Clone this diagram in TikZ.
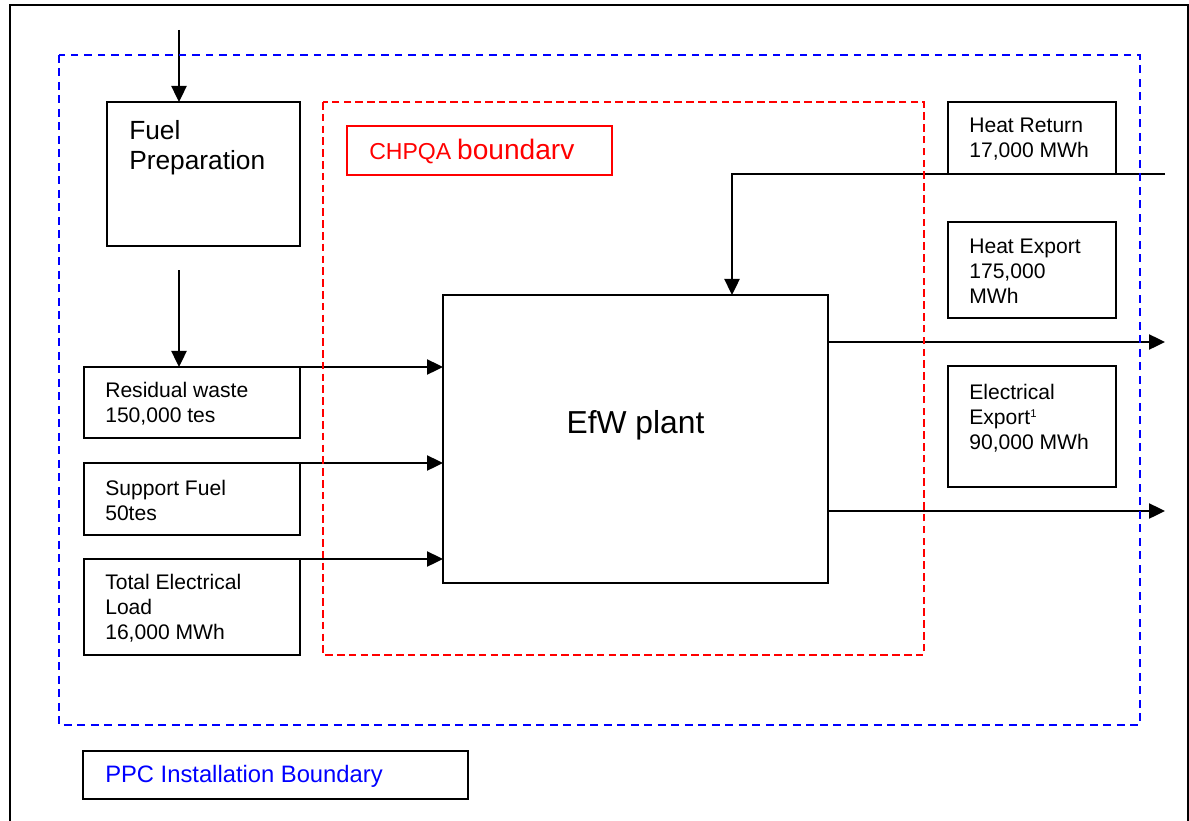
\documentclass[tikz,border=0pt]{standalone}
\usepackage{fontspec}
\setmainfont{Liberation Sans}
\usetikzlibrary{arrows.meta, positioning, calc}
\definecolor{ppcblue}{RGB}{0,0,255}
\definecolor{chpqared}{RGB}{255,0,0}
\newcommand{\unitpx}{0.025cm}

\tikzset{
  unitbox/.style={draw, line width=1.4pt, inner sep=0pt, outer sep=0pt, anchor=north west},
  boxtext/.style={align=left, inner sep=0pt, font=\fontsize{15}{17.8}\selectfont},
  flow/.style={-{Triangle[length=0.4cm,width=0.375cm]}, line width=1.7pt},
  boundary/.style={line width=1.4pt, dash pattern=on 5.4pt off 4.2pt}
}

\begin{document}
\begin{tikzpicture}[x=\unitpx, y=-\unitpx]
\useasboundingbox (0,0) rectangle (1189,821);

\draw[line width=2pt] (10,821) -- (10,5) -- (1188,5) -- (1188,821);

\node[unitbox, minimum width=193*\unitpx, minimum height=144*\unitpx] (fuelprep) at (107,102) {};
\node[boxtext, anchor=north west, font=\fontsize{18.7}{21.3}\selectfont] (fuelpreptext)
  at ([xshift=22*\unitpx, yshift=-18*\unitpx]fuelprep.north west) {Fuel\\Preparation};

\node[unitbox, minimum width=216*\unitpx, minimum height=71*\unitpx] (resw) at (84,367) {};
\node[boxtext, anchor=west] (reswtext) at ([xshift=21*\unitpx, yshift=-1.5*\unitpx]resw.west) {Residual waste\\150,000 tes};
\node[unitbox, minimum width=216*\unitpx, minimum height=72*\unitpx] (supp) at (84,463) {};
\node[boxtext, anchor=west] (supptext) at ([xshift=21*\unitpx, yshift=-1.5*\unitpx]supp.west) {Support Fuel\\50tes};
\node[unitbox, minimum width=216*\unitpx, minimum height=96*\unitpx] (load) at (84,559) {};
\node[boxtext, anchor=west] (loadtext) at ([xshift=21*\unitpx, yshift=-1.5*\unitpx]load.west) {Total Electrical\\Load\\16,000 MWh};

\node[unitbox, minimum width=385*\unitpx, minimum height=288*\unitpx] (efw) at (443,295) {};
\node[inner sep=0pt, font=\fontsize{22.6}{27}\selectfont] (efwtext) at ([yshift=14*\unitpx]efw.center) {EfW plant};

\node[unitbox, minimum width=168*\unitpx, minimum height=72*\unitpx] (heatret) at (948,102) {};
\node[boxtext, anchor=west] (heatrettext) at ([xshift=21*\unitpx, yshift=-1.5*\unitpx]heatret.west) {Heat Return\\17,000 MWh};
\node[unitbox, minimum width=168*\unitpx, minimum height=96*\unitpx] (heatexp) at (948,222) {};
\node[boxtext, anchor=west] (heatexptext) at ([xshift=21*\unitpx, yshift=-1.5*\unitpx]heatexp.west) {Heat Export\\175,000\\MWh};
\node[unitbox, minimum width=168*\unitpx, minimum height=121*\unitpx] (elecexp) at (948,366) {};
\node[boxtext, anchor=north west] (elecexptext)
  at ([xshift=21*\unitpx, yshift=-18*\unitpx]elecexp.north west)
  {Electrical\\Export\raisebox{5pt}{\fontsize{8}{8}\selectfont 1}\\90,000 MWh};

\node[unitbox, draw=chpqared, minimum width=265*\unitpx, minimum height=49*\unitpx] (chpqa) at (347,126) {};
\node[boxtext, anchor=west, text=chpqared] (chpqatext) at ([xshift=22*\unitpx, yshift=-1*\unitpx]chpqa.west)
  {{\fontsize{16.4}{20}\selectfont CHPQA} {\fontsize{20}{24}\selectfont boundarv}};
\node[unitbox, minimum width=385*\unitpx, minimum height=48*\unitpx] (ppc) at (83,751) {};
\node[boxtext, anchor=west, text=ppcblue, font=\fontsize{16.9}{20}\selectfont] (ppctext)
  at ([xshift=22*\unitpx, yshift=-1.5*\unitpx]ppc.west) {PPC Installation Boundary};

\coordinate (fuelin) at (179,30);
\coordinate (fuelout) at (179,270);
\coordinate (hrin) at (1165,174);
\coordinate (hrbend) at (732,174);
\coordinate (heatout) at (1165,342);
\coordinate (elecout) at (1165,511);

\draw[flow] (fuelin) -- (fuelin |- fuelprep.north);
\draw[flow] (fuelout) -- (fuelout |- resw.north);
\draw[flow] (resw.north east) -- (resw.north east -| efw.west);
\draw[flow] (supp.north east) -- (supp.north east -| efw.west);
\draw[flow] (load.north east) -- (load.north east -| efw.west);
\draw[flow] (hrin) -- (hrbend) -- (hrbend |- efw.north);
\draw[flow] (efw.east |- heatout) -- (heatout);
\draw[flow] (efw.east |- elecout) -- (elecout);

\draw[boundary, ppcblue] (59,55) rectangle (1140,725);
\draw[boundary, chpqared, line width=1.2pt, dash pattern=on 5.4pt off 3pt] (323,102) rectangle (924,655);
\end{tikzpicture}
\end{document}
